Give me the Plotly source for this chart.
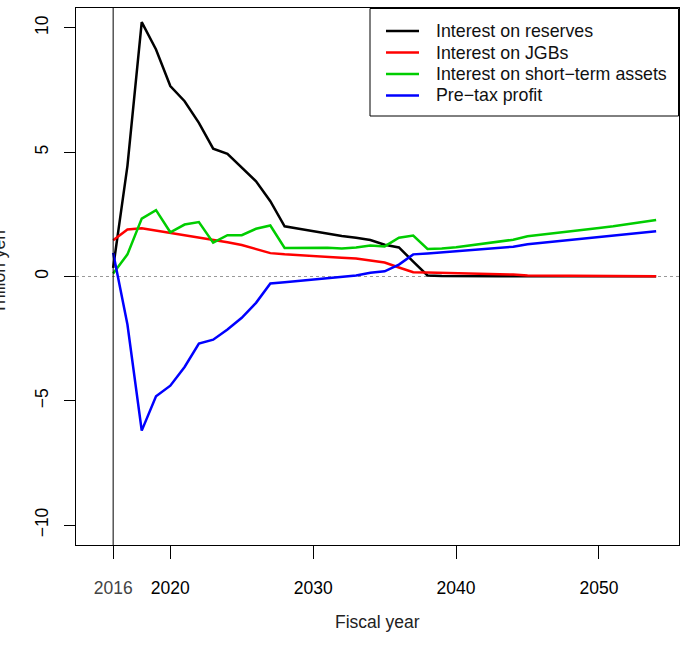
import plotly.graph_objects as go

years = list(range(2016, 2055))

interest_reserves = [0.35, 4.45, 10.23, 9.13, 7.66, 7.05, 6.18, 5.14, 4.93, 4.37,
                     3.83, 3.03, 2.02, 1.92, 1.82, 1.72, 1.63, 1.56, 1.47, 1.28,
                     1.17, 0.60, 0.04, 0.02, 0.01, 0.01, 0.01, 0.01, 0.01, 0.01,
                     0.01, 0.01, 0.01, 0.01, 0.01, 0.01, 0.01, 0.01, 0.01]

interest_jgbs = [1.46, 1.89, 1.94, 1.85, 1.76, 1.64, 1.55, 1.48, 1.38, 1.27,
                 1.10, 0.94, 0.89, 0.85, 0.82, 0.78, 0.75, 0.72, 0.65, 0.56,
                 0.36, 0.17, 0.16, 0.15, 0.15, 0.14, 0.12, 0.10, 0.08, 0.04,
                 0.04, 0.04, 0.04, 0.03, 0.03, 0.03, 0.02, 0.02, 0.01]

interest_short = [0.12, 0.89, 2.33, 2.67, 1.78, 2.09, 2.19, 1.36, 1.66, 1.66,
                  1.92, 2.05, 1.15, 1.15, 1.18, 1.16, 1.13, 1.17, 1.25, 1.21,
                  1.56, 1.65, 1.11, 1.13, 1.18, 1.25, 1.32, 1.39, 1.48, 1.62,
                  1.68, 1.74, 1.81, 1.88, 1.95, 2.02, 2.10, 2.18, 2.27]

pretax_profit = [0.95, -1.93, -6.20, -4.82, -4.39, -3.64, -2.70, -2.54, -2.13, -1.66,
                 -1.06, -0.28, -0.23, -0.18, -0.13, -0.07, -0.02, 0.04, 0.15, 0.21,
                 0.48, 0.89, 0.93, 0.97, 1.01, 1.05, 1.10, 1.15, 1.20, 1.30,
                 1.36, 1.42, 1.48, 1.53, 1.59, 1.65, 1.71, 1.76, 1.82]

series_names = ["Interest on reserves", "Interest on JGBs",
                "Interest on short\u2212term assets", "Pre\u2212tax profit"]
series_colors = ["#000000", "#FF0000", "#00CD00", "#0000FF"]

x_tickvals = [2016, 2020, 2030, 2040, 2050]
x_ticktext = ["<span style='color:#444444'>2016</span>", "2020", "2030", "2040", "2050"]
y_tickvals = [-10, -5, 0, 5, 10]
y_ticktext = ["\u221210", "\u22125", "0", "5", "10"]

FONT = "Liberation Sans, Arial, Helvetica, sans-serif"
W, H = 680, 655
L, R, T, B = 76, 1, 8, 110
pw, ph = W - L - R, H - T - B

def px_x(p):
    return (p - L) / pw

def px_y(p):
    return (H - B - p) / ph

fig = go.Figure()
all_vals = [interest_reserves, interest_jgbs, interest_short, pretax_profit]
for name, vals, col in zip(series_names, all_vals, series_colors):
    fig.add_trace(go.Scatter(x=years, y=vals, mode="lines", name=name,
                             line=dict(color=col, width=2.5), showlegend=False))

# zero reference line (dotted) and vertical line at 2016
fig.add_shape(type="line", xref="paper", yref="y", x0=0, x1=1, y0=0, y1=0,
              line=dict(color="#999999", width=1, dash="dot"), layer="below")
fig.add_shape(type="line", xref="x", yref="paper", x0=2016, x1=2016, y0=0, y1=1,
              line=dict(color="#000000", width=1))

# legend (frame, line keys, labels)
fig.add_shape(type="rect", xref="paper", yref="paper",
              x0=px_x(370), x1=px_x(678.5), y0=px_y(116), y1=px_y(8.5),
              line=dict(color="#000000", width=1), fillcolor="white", layer="above")
row_y = [31, 52.5, 74, 95.5]
for i, (name, col) in enumerate(zip(series_names, series_colors)):
    fig.add_shape(type="line", xref="paper", yref="paper",
                  x0=px_x(386), x1=px_x(419), y0=px_y(row_y[i]), y1=px_y(row_y[i]),
                  line=dict(color=col, width=2.5), layer="above")
    fig.add_annotation(text=name, xref="paper", yref="paper",
                       x=px_x(434), y=px_y(row_y[i]), xanchor="left", yanchor="middle",
                       showarrow=False,
                       font=dict(family=FONT, size=17.8, color="#111111"))

fig.add_annotation(text="Fiscal year", xref="paper", yref="paper",
                   x=px_x(377), y=px_y(622), xanchor="center", yanchor="middle",
                   showarrow=False, font=dict(family=FONT, size=17.5, color="#222222"))
fig.add_annotation(text="Trillion yen", xref="paper", yref="paper",
                   x=px_x(-1), y=px_y(272), xanchor="center", yanchor="middle",
                   textangle=-90, showarrow=False,
                   font=dict(family=FONT, size=17.5, color="#222222"))

fig.update_layout(
    width=W, height=H,
    margin=dict(l=L, r=R, t=T, b=B),
    plot_bgcolor="white", paper_bgcolor="white",
    font=dict(family=FONT, size=17.5, color="#111111"),
    showlegend=False,
    xaxis=dict(range=[2013.4, 2055.6], tickmode="array", tickvals=x_tickvals,
               ticktext=x_ticktext, showgrid=False, zeroline=False,
               showline=True, linecolor="black", linewidth=1, mirror=True,
               ticks="outside", ticklen=13, tickcolor="black", tickwidth=1,
               ticklabelstandoff=14, tickfont=dict(family=FONT, size=17.5, color="#000000")),
    yaxis=dict(range=[-10.8, 10.8], tickmode="array", tickvals=y_tickvals,
               ticktext=y_ticktext, tickangle=-90, showgrid=False, zeroline=False,
               showline=True, linecolor="black", linewidth=1, mirror=True,
               ticks="outside", ticklen=11, tickcolor="black", tickwidth=1,
               ticklabelstandoff=9, tickfont=dict(family=FONT, size=17.5, color="#000000")),
)

fig.write_html("out.html")
